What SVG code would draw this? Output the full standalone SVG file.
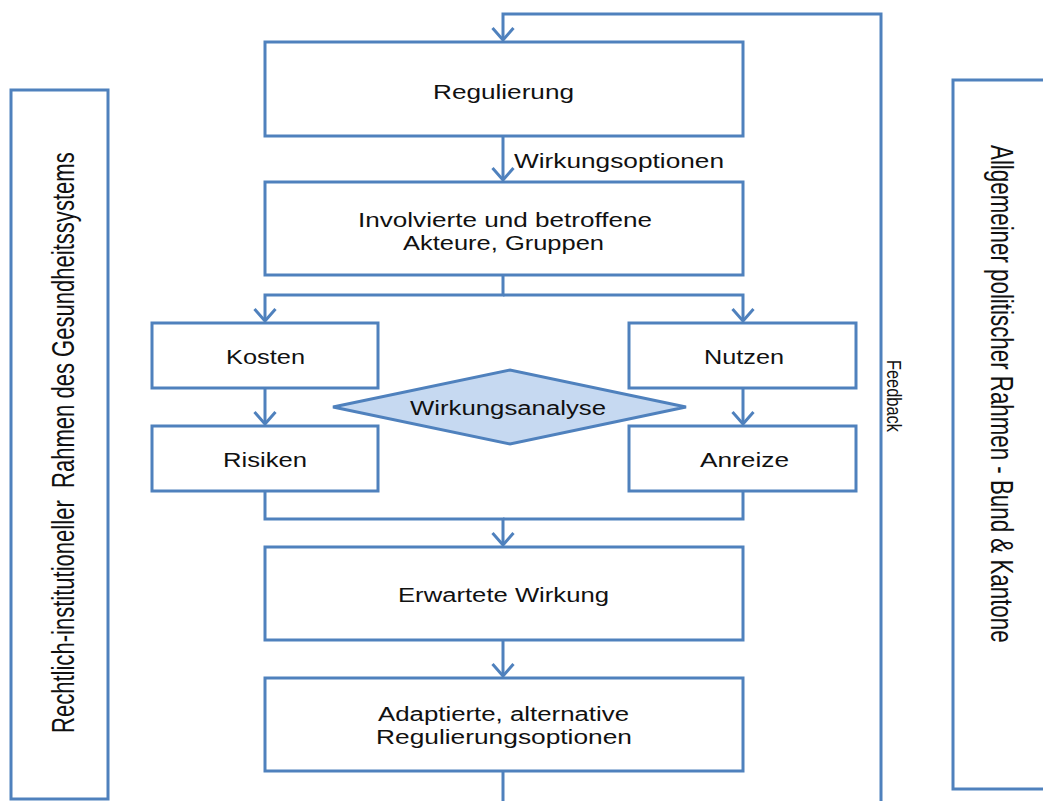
<svg xmlns="http://www.w3.org/2000/svg" width="1043" height="801" viewBox="0 0 1043 801">
  <defs>
    <style>
      .box { fill: #ffffff; stroke: #4F81BD; stroke-width: 3; }
      .dia { fill: #C6D9F1; stroke: #4F81BD; stroke-width: 3; }
      .con { fill: none; stroke: #4F81BD; stroke-width: 3; }
      .lbl { font-family: "Liberation Sans", Arial, sans-serif; font-size: 20px; fill: #111111; }
      .side { font-family: "Liberation Sans", Arial, sans-serif; font-size: 32px; fill: #111111; white-space: pre; }
    </style>
    <marker id="arr" markerUnits="userSpaceOnUse" markerWidth="30" markerHeight="30" refX="0" refY="0" orient="auto" overflow="visible" viewBox="-15 -15 30 30">
      <path d="M-12,-10.5 L0,0 L-12,10.5" fill="none" stroke="#4F81BD" stroke-width="3"/>
    </marker>
  </defs>
  <rect width="1043" height="801" fill="#ffffff"/>

  <g id="connectors">
    <path class="con" d="M881,801 V14 H503 V40" marker-end="url(#arr)"/>
    <path class="con" d="M503,136 V180" marker-end="url(#arr)"/>
    <path class="con" d="M503,275 V295 H265 V321" marker-end="url(#arr)"/>
    <path class="con" d="M503,295 H743 V321" marker-end="url(#arr)"/>
    <path class="con" d="M265,388 V424" marker-end="url(#arr)"/>
    <path class="con" d="M743,388 V424" marker-end="url(#arr)"/>
    <path class="con" d="M265,491 V519 H503 V545" marker-end="url(#arr)"/>
    <path class="con" d="M743,491 V519 H503"/>
    <path class="con" d="M503,640 V676" marker-end="url(#arr)"/>
    <path class="con" d="M503,771 V801"/>
    <text class="lbl" x="514" y="168" textLength="210" lengthAdjust="spacingAndGlyphs">Wirkungsoptionen</text>
    <text class="lbl" transform="translate(887,360) rotate(90) scale(0.78,1)" x="0" y="0" style="font-size:21px">Feedback</text>
  </g>

  <g id="rahmen-links">
    <rect class="box" x="11" y="90" width="97" height="709"/>
    <text class="side" xml:space="preserve" transform="translate(74,733) rotate(-90) scale(0.689,1)" x="0" y="0">Rechtlich-institutioneller  Rahmen des Gesundheitssystems</text>
  </g>

  <g id="rahmen-rechts">
    <rect class="box" x="953" y="80" width="110" height="709"/>
    <text class="side" transform="translate(991,145) rotate(90) scale(0.698,1)" x="0" y="0">Allgemeiner politischer Rahmen - Bund &amp; Kantone</text>
  </g>

  <g id="regulierung">
    <rect class="box" x="265" y="42" width="478" height="94"/>
    <text class="lbl" x="433" y="99" textLength="141" lengthAdjust="spacingAndGlyphs">Regulierung</text>
  </g>

  <g id="akteure">
    <rect class="box" x="265" y="182" width="478" height="93"/>
    <text class="lbl" x="358" y="227" textLength="294" lengthAdjust="spacingAndGlyphs">Involvierte und betroffene</text>
    <text class="lbl" x="403" y="250" textLength="201" lengthAdjust="spacingAndGlyphs">Akteure, Gruppen</text>
  </g>

  <g id="kosten">
    <rect class="box" x="152" y="323" width="226" height="65"/>
    <text class="lbl" x="226" y="364" textLength="79" lengthAdjust="spacingAndGlyphs">Kosten</text>
  </g>

  <g id="nutzen">
    <rect class="box" x="629" y="323" width="227" height="65"/>
    <text class="lbl" x="704" y="364" textLength="80" lengthAdjust="spacingAndGlyphs">Nutzen</text>
  </g>

  <g id="wirkungsanalyse">
    <polygon class="dia" points="333,407 510,370 686,407 510,444"/>
    <text class="lbl" x="410" y="415" textLength="196" lengthAdjust="spacingAndGlyphs">Wirkungsanalyse</text>
  </g>

  <g id="risiken">
    <rect class="box" x="152" y="426" width="226" height="65"/>
    <text class="lbl" x="223" y="467" textLength="84" lengthAdjust="spacingAndGlyphs">Risiken</text>
  </g>

  <g id="anreize">
    <rect class="box" x="629" y="426" width="227" height="65"/>
    <text class="lbl" x="700" y="467" textLength="89" lengthAdjust="spacingAndGlyphs">Anreize</text>
  </g>

  <g id="erwartete-wirkung">
    <rect class="box" x="265" y="547" width="478" height="93"/>
    <text class="lbl" x="398" y="602" textLength="211" lengthAdjust="spacingAndGlyphs">Erwartete Wirkung</text>
  </g>

  <g id="adaptierte-optionen">
    <rect class="box" x="265" y="678" width="478" height="93"/>
    <text class="lbl" x="378" y="721" textLength="251" lengthAdjust="spacingAndGlyphs">Adaptierte, alternative</text>
    <text class="lbl" x="376" y="744" textLength="256" lengthAdjust="spacingAndGlyphs">Regulierungsoptionen</text>
  </g>
</svg>
